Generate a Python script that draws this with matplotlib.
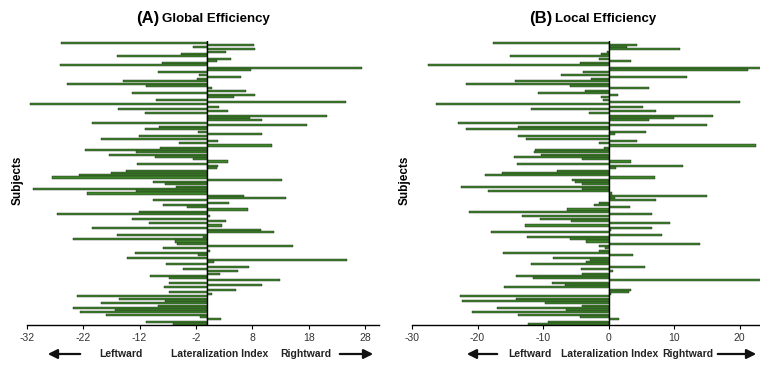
import numpy as np
import matplotlib
matplotlib.use("Agg")
import matplotlib.pyplot as plt

plt.rcParams['font.family'] = ['Liberation Sans', 'DejaVu Sans']

# Lateralisierungsindex pro Proband (von oben nach unten)
global_eff = [
    -25.9, 8.3, -2.5, 8.5, 3.3, -4.6, -16.0, 4.3, 1.7, -8.1, -26.2, 27.4, 7.7, -8.8, -1.4,
    6.0, -1.9, -15.0, -24.9, -10.8, 0.9, 6.8, -13.3, 8.5, 4.7, -9.1, 24.6, -31.4, 2.1, -15.8,
    3.7, -11.1, 21.3, 7.6, 9.8, -20.4, 17.8, -8.5, -11.1, -1.6, 9.8, -12.1, -18.9, 2.0, -5.1,
    11.5, -8.4, -21.7, -12.7, -17.5, -9.3, -2.6, 3.7, -12.5, 2.0, 1.7, -14.4, -17.1, -22.7, -27.6, 13.2,
    -9.6, -7.5, -5.6, -31.0, -12.7, -21.4, 6.5, 13.9, -9.7, 3.8, -7.9, -3.6, 7.3, -12.1, -26.7,
    0.5, -13.3, 3.3, -10.3, 2.7, -20.5, 9.5, 11.9, -16.0, -0.8, -23.8, -5.7, -5.4, 15.3, -7.9,
    0.5, -12.8, -1.6, -14.3, 24.9, 1.2, -7.3, 7.5, -4.3, 5.4, 2.2, -10.2, -6.7, 13.0, -6.7,
    9.8, -7.7, 5.1, -6.8, 0.8, -23.1, -15.6, -7.5, -18.8, -8.7, -23.9, -16.4, -22.6, -18.0, -1.3,
    2.5, -10.8, -6.0,
]
local_eff = [
    -17.6, 4.3, 2.8, 10.9, -0.3, -1.2, -15.1, -1.5, 3.4, -4.3, -27.6, 23.4, 21.3, -3.9, -7.2,
    12.0, -2.6, -14.3, -21.7, -5.9, 6.2, -3.6, -10.8, 1.5, -1.2, -0.9, 20.1, -26.3, 5.3, -11.8,
    7.2, -3.0, 16.0, 10.0, 6.2, -23.0, 15.1, -13.8, -21.7, 5.7, 1.0, -13.8, -12.6, 4.3, -1.4,
    22.5, -0.7, -11.2, -11.4, -10.3, -14.4, -4.0, 3.4, -13.9, 11.4, 1.2, -7.8, -16.3, -18.9, 7.1,
    -5.5, -5.1, -4.0, -22.5, -4.1, -18.4, 0.6, 15.1, 1.0, 7.2, -1.4, -2.2, 3.3, -6.4, -21.3,
    6.6, -13.2, -10.5, -5.8, 9.4, -12.8, 6.6, 0.4, -17.9, 8.2, -12.4, -5.9, -3.4, 13.9, -1.5,
    -0.5, -1.5, -16.1, 3.7, -8.5, -2.8, -3.4, -11.9, 5.6, -4.2, 0.7, -4.1, -14.2, -11.5, 23.3,
    -8.6, -6.6, -15.9, 3.4, 3.2, 0.4, -22.7, -14.2, -22.3, -9.7, -4.1, -17.0, -6.5, -20.8, -13.8,
    -4.4, 1.6, -9.2, -12.3,
]
subjects = np.arange(len(global_eff))

ticks_a = [-32, -22, -12, -2, 8, 18, 28]
ticks_b = [-30, -20, -10, 0, 10, 20]

W, H = 760, 369
fig = plt.figure(figsize=(W / 100, H / 100), dpi=100)

def px(x, y):
    return x / W, 1 - y / H

ax_a = fig.add_axes([27 / W, 1 - 325 / H, 352 / W, 284.5 / H])
ax_b = fig.add_axes([412 / W, 1 - 325 / H, 348.5 / W, 284.5 / H])

bar_col = '#3f832c'
for ax, vals, ticks, xlim in [(ax_a, global_eff, ticks_a, (-32, 30.5)),
                              (ax_b, local_eff, ticks_b, (-30, 23.2))]:
    ax.barh(subjects, vals, height=0.9, color=bar_col, edgecolor='#1a2a14', linewidth=0.3)
    ax.axvline(0, color='black', lw=1)
    ax.set_xlim(*xlim)
    ax.set_ylim(len(vals) - 0.5, -0.9)
    ax.set_xticks(ticks)
    ax.set_xticklabels([str(t) for t in ticks])
    ax.set_yticks([])
    for s in ['left', 'top', 'right']:
        ax.spines[s].set_visible(False)
    ax.spines['bottom'].set_linewidth(1)
    ax.tick_params(axis='x', direction='out', length=3, labelsize=7.5,
                   labelcolor='#333333', pad=3)

# Titel
fig.text(*px(159, 18), "(A)", fontsize=12, fontweight='bold', ha='right', va='center')
fig.text(*px(162, 19), "Global Efficiency", fontsize=9.5, fontweight='bold', ha='left', va='center')
fig.text(*px(552, 18), "(B)", fontsize=12, fontweight='bold', ha='right', va='center')
fig.text(*px(555, 19), "Local Efficiency", fontsize=9.5, fontweight='bold', ha='left', va='center')

# Y-Achse
fig.text(*px(18, 180), "Subjects", fontsize=8.5, fontweight='bold', rotation=90,
         ha='center', va='center')
fig.text(*px(405, 180), "Subjects", fontsize=8.5, fontweight='bold', rotation=90,
         ha='center', va='center')

# Beschriftung unten mit Pfeilen
def bottom_labels(xl, xc, xr, arrow_l, arrow_r):
    y = 354
    fig.text(*px(xl, y), "Leftward", fontsize=7.5, fontweight='bold', ha='center', va='center',
             color='#222222')
    fig.text(*px(xc, y), "Lateralization Index", fontsize=7.5, fontweight='bold', ha='center',
             va='center', color='#222222')
    fig.text(*px(xr, y), "Rightward", fontsize=7.5, fontweight='bold', ha='center', va='center',
             color='#222222')
    for tail, head in [arrow_l, arrow_r]:
        fig.patches.append(matplotlib.patches.FancyArrowPatch(
            px(tail, y), px(head, y), transform=fig.transFigure,
            arrowstyle='-|>', mutation_scale=14, lw=1.6, color='#111111'))

bottom_labels(121, 220, 306, (83, 45), (337, 376))
bottom_labels(530, 610, 688, (500, 464), (715, 759))

fig.savefig("out.png", dpi=100)
